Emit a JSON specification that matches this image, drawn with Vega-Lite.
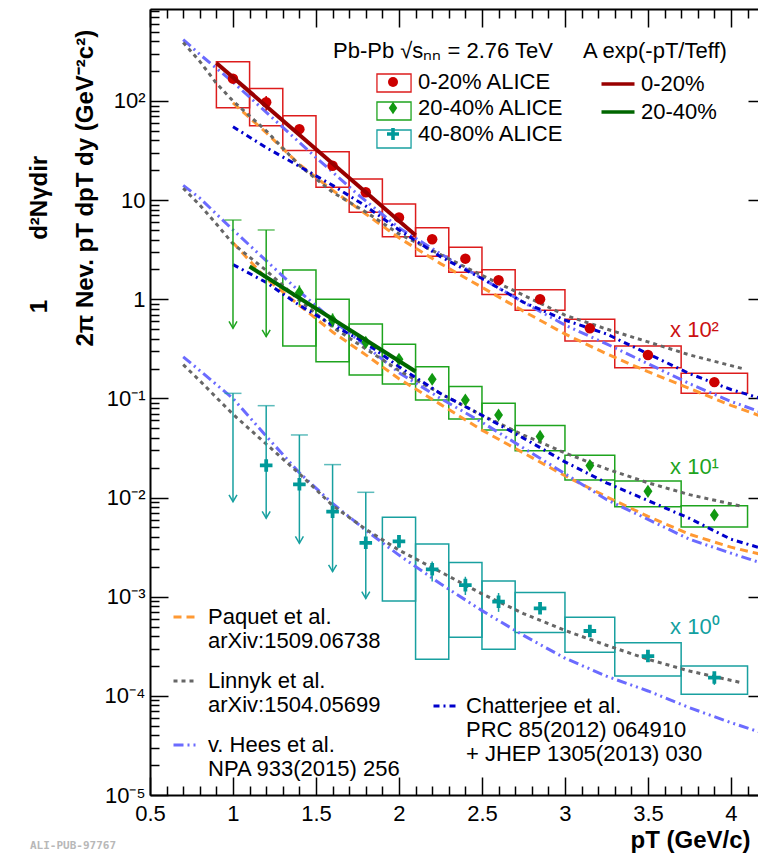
{
"$schema": "https://vega.github.io/schema/vega-lite/v6.json",
"width": 608, "height": 786,
"autosize": {"type": "none"},
"padding": {"left": 150, "top": 9, "right": 0, "bottom": 61},
"background": "white",
"title": {"text": "ALI-PUB-97767", "orient": "bottom", "anchor": "start", "frame": "group", "dx": -120, "offset": -12, "font": "DejaVu Sans Mono", "fontSize": 11, "fontWeight": "bold", "color": "#b8b8b8"},
"datasets": {
"pts": [
{"cent":"0-20%","x":1.0,"xlo":0.9,"xhi":1.1,"y":168,"slo":85.5,"shi":249},
{"cent":"0-20%","x":1.2,"xlo":1.1,"xhi":1.3,"y":97,"slo":56.4,"shi":134,"elo":80,"ehi":112},
{"cent":"0-20%","x":1.4,"xlo":1.3,"xhi":1.5,"y":52,"slo":31.6,"shi":71.1},
{"cent":"0-20%","x":1.6,"xlo":1.5,"xhi":1.7,"y":22.2,"slo":13.5,"shi":30.8},
{"cent":"0-20%","x":1.8,"xlo":1.7,"xhi":1.9,"y":12.0,"slo":7.53,"shi":16.3},
{"cent":"0-20%","x":2.0,"xlo":1.9,"xhi":2.1,"y":6.7,"slo":4.28,"shi":9.14},
{"cent":"0-20%","x":2.2,"xlo":2.1,"xhi":2.3,"y":4.03,"slo":2.71,"shi":5.27},
{"cent":"0-20%","x":2.4,"xlo":2.3,"xhi":2.5,"y":2.57,"slo":1.87,"shi":3.34},
{"cent":"0-20%","x":2.6,"xlo":2.5,"xhi":2.7,"y":1.56,"slo":1.12,"shi":1.99},
{"cent":"0-20%","x":2.85,"xlo":2.7,"xhi":3.0,"y":1.0,"slo":0.774,"shi":1.25},
{"cent":"0-20%","x":3.15,"xlo":3.0,"xhi":3.3,"y":0.509,"slo":0.379,"shi":0.628},
{"cent":"0-20%","x":3.5,"xlo":3.3,"xhi":3.7,"y":0.274,"slo":0.204,"shi":0.338},
{"cent":"0-20%","x":3.9,"xlo":3.7,"xhi":4.1,"y":0.146,"slo":0.1125,"shi":0.179},
{"cent":"20-40%","x":1.0,"elo":0.51,"ehi":6.3,"lim":true},
{"cent":"20-40%","x":1.2,"elo":0.42,"ehi":5.0,"lim":true},
{"cent":"20-40%","x":1.4,"xlo":1.3,"xhi":1.5,"y":1.17,"slo":0.338,"shi":1.97,"elo":0.87,"ehi":1.38},
{"cent":"20-40%","x":1.6,"xlo":1.5,"xhi":1.7,"y":0.618,"slo":0.235,"shi":1.0,"elo":0.52,"ehi":0.72},
{"cent":"20-40%","x":1.8,"xlo":1.7,"xhi":1.9,"y":0.368,"slo":0.172,"shi":0.564},
{"cent":"20-40%","x":2.0,"xlo":1.9,"xhi":2.1,"y":0.248,"slo":0.14,"shi":0.352},
{"cent":"20-40%","x":2.2,"xlo":2.1,"xhi":2.3,"y":0.156,"slo":0.0964,"shi":0.209},
{"cent":"20-40%","x":2.4,"xlo":2.3,"xhi":2.5,"y":0.0964,"slo":0.062,"shi":0.1316},
{"cent":"20-40%","x":2.6,"xlo":2.5,"xhi":2.7,"y":0.068,"slo":0.048,"shi":0.0893},
{"cent":"20-40%","x":2.85,"xlo":2.7,"xhi":3.0,"y":0.0414,"slo":0.0297,"shi":0.0532},
{"cent":"20-40%","x":3.15,"xlo":3.0,"xhi":3.3,"y":0.021,"slo":0.015,"shi":0.0267},
{"cent":"20-40%","x":3.5,"xlo":3.3,"xhi":3.7,"y":0.01156,"slo":0.0081,"shi":0.0147},
{"cent":"20-40%","x":3.9,"xlo":3.7,"xhi":4.1,"y":0.00667,"slo":0.00505,"shi":0.00828},
{"cent":"40-80%","x":1.0,"elo":0.00908,"ehi":0.1125,"lim":true},
{"cent":"40-80%","x":1.2,"y":0.0211,"elo":0.0062,"ehi":0.0845,"lim":true},
{"cent":"40-80%","x":1.4,"y":0.0136,"elo":0.00346,"ehi":0.0428,"lim":true},
{"cent":"40-80%","x":1.6,"y":0.0072,"elo":0.00179,"ehi":0.0215,"lim":true},
{"cent":"40-80%","x":1.8,"y":0.0035,"elo":0.00096,"ehi":0.0113,"lim":true},
{"cent":"40-80%","x":2.0,"xlo":1.9,"xhi":2.1,"y":0.00362,"slo":0.000906,"shi":0.00633,"elo":0.0031,"ehi":0.00419},
{"cent":"40-80%","x":2.2,"xlo":2.1,"xhi":2.3,"y":0.00189,"slo":0.000234,"shi":0.0034,"elo":0.00142,"ehi":0.00226},
{"cent":"40-80%","x":2.4,"xlo":2.3,"xhi":2.5,"y":0.00131,"slo":0.00039,"shi":0.00221,"elo":0.00104,"ehi":0.00159},
{"cent":"40-80%","x":2.6,"xlo":2.5,"xhi":2.7,"y":0.00089,"slo":0.000295,"shi":0.00144,"elo":0.000703,"ehi":0.00109},
{"cent":"40-80%","x":2.85,"xlo":2.7,"xhi":3.0,"y":0.000764,"slo":0.000435,"shi":0.0011,"elo":0.00068,"ehi":0.000857},
{"cent":"40-80%","x":3.15,"xlo":3.0,"xhi":3.3,"y":0.000451,"slo":0.000275,"shi":0.00062,"elo":0.000396,"ehi":0.000499},
{"cent":"40-80%","x":3.5,"xlo":3.3,"xhi":3.7,"y":0.000252,"slo":0.000159,"shi":0.000344,"elo":0.000221,"ehi":0.000279},
{"cent":"40-80%","x":3.9,"xlo":3.7,"xhi":4.1,"y":0.000153,"slo":0.000104,"shi":0.0002,"elo":0.000129,"ehi":0.000171}
],
"fits": [
{"fit":"0-20%","x":0.9,"y":241.5},{"fit":"0-20%","x":2.1,"y":4.43},
{"fit":"20-40%","x":1.1,"y":2.14},{"fit":"20-40%","x":2.1,"y":0.187}
],
"models": [
{"model":"Paquet","cent":"0-20%","x":1.0,"y":95.5},{"model":"Paquet","cent":"0-20%","x":1.2,"y":47.9},{"model":"Paquet","cent":"0-20%","x":1.4,"y":22.9},{"model":"Paquet","cent":"0-20%","x":1.6,"y":12.6},{"model":"Paquet","cent":"0-20%","x":1.8,"y":7.24},{"model":"Paquet","cent":"0-20%","x":2.0,"y":4.17},{"model":"Paquet","cent":"0-20%","x":2.25,"y":2.29},{"model":"Paquet","cent":"0-20%","x":2.5,"y":1.32},{"model":"Paquet","cent":"0-20%","x":2.75,"y":0.759},{"model":"Paquet","cent":"0-20%","x":3.0,"y":0.447},{"model":"Paquet","cent":"0-20%","x":3.25,"y":0.282},{"model":"Paquet","cent":"0-20%","x":3.5,"y":0.186},{"model":"Paquet","cent":"0-20%","x":3.75,"y":0.126},{"model":"Paquet","cent":"0-20%","x":4.0,"y":0.0851},{"model":"Paquet","cent":"0-20%","x":4.2,"y":0.0646},
{"model":"Paquet","cent":"20-40%","x":1.0,"y":3.72},{"model":"Paquet","cent":"20-40%","x":1.2,"y":1.62},{"model":"Paquet","cent":"20-40%","x":1.4,"y":0.871},{"model":"Paquet","cent":"20-40%","x":1.6,"y":0.468},{"model":"Paquet","cent":"20-40%","x":1.8,"y":0.275},{"model":"Paquet","cent":"20-40%","x":2.0,"y":0.158},{"model":"Paquet","cent":"20-40%","x":2.25,"y":0.0871},{"model":"Paquet","cent":"20-40%","x":2.5,"y":0.0479},{"model":"Paquet","cent":"20-40%","x":2.75,"y":0.0282},{"model":"Paquet","cent":"20-40%","x":3.0,"y":0.0166},{"model":"Paquet","cent":"20-40%","x":3.25,"y":0.0102},{"model":"Paquet","cent":"20-40%","x":3.5,"y":0.00646},{"model":"Paquet","cent":"20-40%","x":3.75,"y":0.00427},{"model":"Paquet","cent":"20-40%","x":4.0,"y":0.00316},{"model":"Paquet","cent":"20-40%","x":4.2,"y":0.00263},
{"model":"Hees","cent":"0-20%","x":0.7,"y":417},{"model":"Hees","cent":"0-20%","x":0.8,"y":295},{"model":"Hees","cent":"0-20%","x":0.9,"y":214},{"model":"Hees","cent":"0-20%","x":1.0,"y":155},{"model":"Hees","cent":"0-20%","x":1.25,"y":64.6},{"model":"Hees","cent":"0-20%","x":1.5,"y":26.9},{"model":"Hees","cent":"0-20%","x":1.75,"y":11.5},{"model":"Hees","cent":"0-20%","x":2.0,"y":5.25},{"model":"Hees","cent":"0-20%","x":2.25,"y":2.88},{"model":"Hees","cent":"0-20%","x":2.5,"y":1.62},{"model":"Hees","cent":"0-20%","x":2.75,"y":0.933},{"model":"Hees","cent":"0-20%","x":3.0,"y":0.55},{"model":"Hees","cent":"0-20%","x":3.25,"y":0.355},{"model":"Hees","cent":"0-20%","x":3.5,"y":0.224},{"model":"Hees","cent":"0-20%","x":3.75,"y":0.141},{"model":"Hees","cent":"0-20%","x":4.0,"y":0.0933},{"model":"Hees","cent":"0-20%","x":4.2,"y":0.0708},
{"model":"Hees","cent":"20-40%","x":0.7,"y":14.1},{"model":"Hees","cent":"20-40%","x":0.8,"y":10.5},{"model":"Hees","cent":"20-40%","x":0.9,"y":7.24},{"model":"Hees","cent":"20-40%","x":1.0,"y":5.01},{"model":"Hees","cent":"20-40%","x":1.2,"y":2.45},{"model":"Hees","cent":"20-40%","x":1.4,"y":1.2},{"model":"Hees","cent":"20-40%","x":1.6,"y":0.617},{"model":"Hees","cent":"20-40%","x":1.8,"y":0.339},{"model":"Hees","cent":"20-40%","x":2.0,"y":0.182},{"model":"Hees","cent":"20-40%","x":2.25,"y":0.1},{"model":"Hees","cent":"20-40%","x":2.5,"y":0.0575},{"model":"Hees","cent":"20-40%","x":2.75,"y":0.0316},{"model":"Hees","cent":"20-40%","x":3.0,"y":0.0174},{"model":"Hees","cent":"20-40%","x":3.25,"y":0.00955},{"model":"Hees","cent":"20-40%","x":3.5,"y":0.00603},{"model":"Hees","cent":"20-40%","x":3.75,"y":0.0038},{"model":"Hees","cent":"20-40%","x":4.0,"y":0.00275},{"model":"Hees","cent":"20-40%","x":4.2,"y":0.00214},
{"model":"Hees","cent":"40-80%","x":0.7,"y":0.263},{"model":"Hees","cent":"40-80%","x":0.8,"y":0.191},{"model":"Hees","cent":"40-80%","x":0.9,"y":0.138},{"model":"Hees","cent":"40-80%","x":1.0,"y":0.1},{"model":"Hees","cent":"40-80%","x":1.2,"y":0.0417},{"model":"Hees","cent":"40-80%","x":1.4,"y":0.0178},{"model":"Hees","cent":"40-80%","x":1.6,"y":0.00871},{"model":"Hees","cent":"40-80%","x":1.8,"y":0.00468},{"model":"Hees","cent":"40-80%","x":2.0,"y":0.00263},{"model":"Hees","cent":"40-80%","x":2.25,"y":0.00135},{"model":"Hees","cent":"40-80%","x":2.5,"y":0.000724},{"model":"Hees","cent":"40-80%","x":2.75,"y":0.000407},{"model":"Hees","cent":"40-80%","x":3.0,"y":0.00024},{"model":"Hees","cent":"40-80%","x":3.25,"y":0.000158},{"model":"Hees","cent":"40-80%","x":3.5,"y":0.000112},{"model":"Hees","cent":"40-80%","x":3.75,"y":0.0000759},{"model":"Hees","cent":"40-80%","x":4.0,"y":0.0000537},{"model":"Hees","cent":"40-80%","x":4.2,"y":0.0000417},
{"model":"Linnyk","cent":"0-20%","x":0.7,"y":389},{"model":"Linnyk","cent":"0-20%","x":0.8,"y":251},{"model":"Linnyk","cent":"0-20%","x":0.9,"y":151},{"model":"Linnyk","cent":"0-20%","x":1.0,"y":100},{"model":"Linnyk","cent":"0-20%","x":1.2,"y":50.1},{"model":"Linnyk","cent":"0-20%","x":1.4,"y":22.4},{"model":"Linnyk","cent":"0-20%","x":1.6,"y":12.0},{"model":"Linnyk","cent":"0-20%","x":1.8,"y":7.59},{"model":"Linnyk","cent":"0-20%","x":2.0,"y":4.57},{"model":"Linnyk","cent":"0-20%","x":2.25,"y":2.82},{"model":"Linnyk","cent":"0-20%","x":2.5,"y":1.74},{"model":"Linnyk","cent":"0-20%","x":2.75,"y":1.1},{"model":"Linnyk","cent":"0-20%","x":3.0,"y":0.692},{"model":"Linnyk","cent":"0-20%","x":3.25,"y":0.501},{"model":"Linnyk","cent":"0-20%","x":3.5,"y":0.372},{"model":"Linnyk","cent":"0-20%","x":3.75,"y":0.275},{"model":"Linnyk","cent":"0-20%","x":4.07,"y":0.2},
{"model":"Linnyk","cent":"20-40%","x":0.7,"y":13.2},{"model":"Linnyk","cent":"20-40%","x":0.8,"y":8.91},{"model":"Linnyk","cent":"20-40%","x":0.9,"y":5.75},{"model":"Linnyk","cent":"20-40%","x":1.0,"y":3.63},{"model":"Linnyk","cent":"20-40%","x":1.2,"y":1.95},{"model":"Linnyk","cent":"20-40%","x":1.4,"y":0.977},{"model":"Linnyk","cent":"20-40%","x":1.6,"y":0.525},{"model":"Linnyk","cent":"20-40%","x":1.8,"y":0.316},{"model":"Linnyk","cent":"20-40%","x":2.0,"y":0.191},{"model":"Linnyk","cent":"20-40%","x":2.25,"y":0.112},{"model":"Linnyk","cent":"20-40%","x":2.5,"y":0.0676},{"model":"Linnyk","cent":"20-40%","x":2.75,"y":0.0427},{"model":"Linnyk","cent":"20-40%","x":3.0,"y":0.0282},{"model":"Linnyk","cent":"20-40%","x":3.25,"y":0.0195},{"model":"Linnyk","cent":"20-40%","x":3.5,"y":0.0141},{"model":"Linnyk","cent":"20-40%","x":3.75,"y":0.0107},{"model":"Linnyk","cent":"20-40%","x":4.07,"y":0.00813},
{"model":"Linnyk","cent":"40-80%","x":0.7,"y":0.219},{"model":"Linnyk","cent":"40-80%","x":0.8,"y":0.151},{"model":"Linnyk","cent":"40-80%","x":0.9,"y":0.102},{"model":"Linnyk","cent":"40-80%","x":1.0,"y":0.0692},{"model":"Linnyk","cent":"40-80%","x":1.2,"y":0.0347},{"model":"Linnyk","cent":"40-80%","x":1.4,"y":0.0174},{"model":"Linnyk","cent":"40-80%","x":1.6,"y":0.00832},{"model":"Linnyk","cent":"40-80%","x":1.8,"y":0.00479},{"model":"Linnyk","cent":"40-80%","x":2.0,"y":0.00295},{"model":"Linnyk","cent":"40-80%","x":2.25,"y":0.00178},{"model":"Linnyk","cent":"40-80%","x":2.5,"y":0.00107},{"model":"Linnyk","cent":"40-80%","x":2.75,"y":0.000676},{"model":"Linnyk","cent":"40-80%","x":3.0,"y":0.000457},{"model":"Linnyk","cent":"40-80%","x":3.25,"y":0.000324},{"model":"Linnyk","cent":"40-80%","x":3.5,"y":0.000234},{"model":"Linnyk","cent":"40-80%","x":3.75,"y":0.000178},{"model":"Linnyk","cent":"40-80%","x":4.07,"y":0.000135},
{"model":"Chatterjee","cent":"0-20%","x":1.0,"y":55.0},{"model":"Chatterjee","cent":"0-20%","x":1.2,"y":33.9},{"model":"Chatterjee","cent":"0-20%","x":1.4,"y":21.9},{"model":"Chatterjee","cent":"0-20%","x":1.6,"y":14.1},{"model":"Chatterjee","cent":"0-20%","x":1.8,"y":8.71},{"model":"Chatterjee","cent":"0-20%","x":2.0,"y":5.01},{"model":"Chatterjee","cent":"0-20%","x":2.25,"y":2.69},{"model":"Chatterjee","cent":"0-20%","x":2.5,"y":1.62},{"model":"Chatterjee","cent":"0-20%","x":2.75,"y":0.933},{"model":"Chatterjee","cent":"0-20%","x":3.0,"y":0.617},{"model":"Chatterjee","cent":"0-20%","x":3.25,"y":0.447},{"model":"Chatterjee","cent":"0-20%","x":3.5,"y":0.282},{"model":"Chatterjee","cent":"0-20%","x":3.75,"y":0.178},{"model":"Chatterjee","cent":"0-20%","x":4.0,"y":0.123},{"model":"Chatterjee","cent":"0-20%","x":4.2,"y":0.0977},
{"model":"Chatterjee","cent":"20-40%","x":1.0,"y":2.24},{"model":"Chatterjee","cent":"20-40%","x":1.2,"y":1.48},{"model":"Chatterjee","cent":"20-40%","x":1.4,"y":0.871},{"model":"Chatterjee","cent":"20-40%","x":1.6,"y":0.55},{"model":"Chatterjee","cent":"20-40%","x":1.8,"y":0.363},{"model":"Chatterjee","cent":"20-40%","x":2.0,"y":0.209},{"model":"Chatterjee","cent":"20-40%","x":2.25,"y":0.112},{"model":"Chatterjee","cent":"20-40%","x":2.5,"y":0.0676},{"model":"Chatterjee","cent":"20-40%","x":2.75,"y":0.0398},{"model":"Chatterjee","cent":"20-40%","x":3.0,"y":0.0229},{"model":"Chatterjee","cent":"20-40%","x":3.25,"y":0.0141},{"model":"Chatterjee","cent":"20-40%","x":3.5,"y":0.00933},{"model":"Chatterjee","cent":"20-40%","x":3.75,"y":0.00617},{"model":"Chatterjee","cent":"20-40%","x":4.0,"y":0.0038},{"model":"Chatterjee","cent":"20-40%","x":4.2,"y":0.00302}
]
},
"layer": [
{
"data": {"name": "pts"},
"transform": [{"filter": "isValid(datum.slo)"}],
"mark": {"type": "rect", "filled": false, "strokeWidth": 1.5},
"encoding": {
"x": {"field": "xlo", "type": "quantitative", "scale": {"type": "linear", "domain": [0.5, 4.163], "nice": false, "zero": false},
 "axis": {"orient": "bottom", "values": [0.5,1,1.5,2,2.5,3,3.5,4], "format": "~g", "tickSize": -18, "labelPadding": 26, "labelFlush": false, "labelOverlap": false, "domain": true,
  "title": "pT (GeV/c)", "titleFontSize": 24, "titleFontWeight": "bold", "titleAlign": "left", "titleBaseline": "middle", "titleX": 480, "titleY": 45}},
"x2": {"field": "xhi"},
"y": {"field": "slo", "type": "quantitative", "scale": {"type": "log", "domain": [0.00001, 847], "nice": false},
 "axis": {"orient": "left", "values": [0.00001,0.0001,0.001,0.01,0.1,1,10,100], "tickSize": -18, "labelPadding": 23, "labelFlush": false, "labelOverlap": false, "domain": true,
  "labelExpr": "datum.value >= 50 ? '10²' : datum.value >= 5 ? '10' : datum.value >= 0.5 ? '1' : datum.value >= 0.05 ? '10⁻¹' : datum.value >= 0.005 ? '10⁻²' : datum.value >= 0.0005 ? '10⁻³' : datum.value >= 0.00005 ? '10⁻⁴' : '10⁻⁵'",
  "title": ["\u200b\u00a0\u00a0\u00a0\u00a0\u00a01\u00a0\u00a0\u00a0\u00a0\u00a0\u00a0\u00a0\u00a0\u00a0d²Nγdir", "2π Nev. pT dpT dy (GeV⁻²c²)"],
  "titleFontSize": 24, "titleFontWeight": "bold", "titleAngle": 270, "titleAlign": "left", "titleBaseline": "top", "titleX": -123, "titleY": 337, "titleLineHeight": 46}},
"y2": {"field": "shi"},
"color": {"field": "cent", "type": "nominal", "scale": {"domain": ["0-20%","20-40%","40-80%"], "range": ["#dd1c1c","#1ea41e","#18a0a0"]},
 "legend": {"orient": "none", "direction": "vertical", "legendX": 183, "legendY": 62, "title": null, "symbolType": "M-1.55,-0.82H1.55V0.82H-1.55Z", "symbolSize": 484, "symbolStrokeWidth": 1.3, "symbolOffset": 49, "rowPadding": 4, "labelExpr": "''"}}
}
},
{
"data": {"name": "models"},
"transform": [{"filter": "datum.model != 'Chatterjee'"}],
"mark": {"type": "line", "strokeWidth": 3, "clip": true, "strokeCap": "butt"},
"encoding": {
"x": {"field": "x", "type": "quantitative", "scale": {"type": "linear", "domain": [0.5, 4.163], "nice": false, "zero": false}, "axis": null},
"y": {"field": "y", "type": "quantitative", "scale": {"type": "log", "domain": [0.00001, 847], "nice": false}, "axis": null},
"detail": {"field": "cent"},
"color": {"field": "model", "type": "nominal", "scale": {"domain": ["Paquet","Linnyk","Hees"], "range": ["#ff9933","#666666","#6b6bff"]},
 "legend": {"orient": "none", "direction": "vertical", "legendX": 22, "legendY": 595, "title": null, "symbolType": "stroke", "symbolSize": 529, "symbolStrokeWidth": 3, "labelOffset": 10, "rowPadding": 16,
  "labelExpr": "datum.label == 'Paquet' ? ['Paquet et al.', 'arXiv:1509.06738'] : datum.label == 'Linnyk' ? ['Linnyk et al.', 'arXiv:1504.05699'] : ['v. Hees et al.', 'NPA 933(2015) 256']"}},
"strokeDash": {"field": "model", "type": "nominal", "scale": {"domain": ["Paquet","Linnyk","Hees"], "range": [[8,5],[4,4],[10,4,2,4,2,4]]},
 "legend": {"orient": "none", "direction": "vertical", "legendX": 22, "legendY": 595, "title": null, "symbolType": "stroke", "symbolSize": 529, "symbolStrokeWidth": 3, "labelOffset": 10, "rowPadding": 16,
  "labelExpr": "datum.label == 'Paquet' ? ['Paquet et al.', 'arXiv:1509.06738'] : datum.label == 'Linnyk' ? ['Linnyk et al.', 'arXiv:1504.05699'] : ['v. Hees et al.', 'NPA 933(2015) 256']"}}
}
},
{
"data": {"name": "models"},
"transform": [{"filter": "datum.model == 'Chatterjee'"}],
"mark": {"type": "line", "strokeWidth": 3, "clip": true, "strokeCap": "butt"},
"encoding": {
"x": {"field": "x", "type": "quantitative", "scale": {"type": "linear", "domain": [0.5, 4.163], "nice": false, "zero": false}, "axis": null},
"y": {"field": "y", "type": "quantitative", "scale": {"type": "log", "domain": [0.00001, 847], "nice": false}, "axis": null},
"detail": {"field": "cent"},
"color": {"field": "model", "type": "nominal", "scale": {"domain": ["Chatterjee"], "range": ["#0000cc"]},
 "legend": {"orient": "none", "direction": "vertical", "legendX": 282, "legendY": 684, "title": null, "symbolType": "stroke", "symbolSize": 529, "symbolStrokeWidth": 3, "labelOffset": 8,
  "labelExpr": "['Chatterjee et al.', 'PRC 85(2012) 064910', '+ JHEP 1305(2013) 030']"}},
"strokeDash": {"field": "model", "type": "nominal", "scale": {"domain": ["Chatterjee"], "range": [[6,4,2,4]]},
 "legend": {"orient": "none", "direction": "vertical", "legendX": 282, "legendY": 684, "title": null, "symbolType": "stroke", "symbolSize": 529, "symbolStrokeWidth": 3, "labelOffset": 8,
  "labelExpr": "['Chatterjee et al.', 'PRC 85(2012) 064910', '+ JHEP 1305(2013) 030']"}}
}
},
{
"data": {"name": "pts"},
"transform": [{"filter": "isValid(datum.elo)"}],
"mark": {"type": "rule", "strokeWidth": 1.5},
"encoding": {
"x": {"field": "x", "type": "quantitative", "scale": {"type": "linear", "domain": [0.5, 4.163], "nice": false, "zero": false},
 "axis": {"orient": "top", "values": [0.5,1,1.5,2,2.5,3,3.5,4], "tickSize": -18, "labels": false, "domain": true, "title": null}},
"y": {"field": "elo", "type": "quantitative", "scale": {"type": "log", "domain": [0.00001, 847], "nice": false},
 "axis": {"orient": "right", "values": [0.00001,0.0001,0.001,0.01,0.1,1,10,100], "tickSize": -10, "labels": false, "domain": false, "title": null}},
"y2": {"field": "ehi"},
"color": {"field": "cent", "type": "nominal", "scale": {"domain": ["0-20%","20-40%","40-80%"], "range": ["#cc0000","#1ea41e","#18a0a0"]}, "legend": null}
}
},
{
"data": {"name": "pts"},
"transform": [{"filter": "datum.lim == true"}],
"mark": {"type": "tick", "orient": "horizontal", "size": 17, "thickness": 1.5},
"encoding": {
"x": {"field": "x", "type": "quantitative", "scale": {"type": "linear", "domain": [0.5, 4.163], "nice": false, "zero": false},
 "axis": {"orient": "top", "values": [0.6,0.7,0.8,0.9,1.1,1.2,1.3,1.4,1.6,1.7,1.8,1.9,2.1,2.2,2.3,2.4,2.6,2.7,2.8,2.9,3.1,3.2,3.3,3.4,3.6,3.7,3.8,3.9,4.1], "tickSize": -9, "labels": false, "domain": false, "title": null}},
"y": {"field": "ehi", "type": "quantitative", "scale": {"type": "log", "domain": [0.00001, 847], "nice": false}, "axis": null},
"color": {"field": "cent", "type": "nominal", "scale": {"domain": ["0-20%","20-40%","40-80%"], "range": ["#cc0000","#1ea41e","#18a0a0"]}, "legend": null}
}
},
{
"data": {"name": "pts"},
"transform": [{"filter": "datum.lim == true"}],
"mark": {"type": "point", "shape": "M-1,-1.7L0,0L1,-1.7", "filled": false, "size": 64, "strokeWidth": 1.5, "opacity": 1},
"encoding": {
"x": {"field": "x", "type": "quantitative", "scale": {"type": "linear", "domain": [0.5, 4.163], "nice": false, "zero": false}, "axis": null},
"y": {"field": "elo", "type": "quantitative", "scale": {"type": "log", "domain": [0.00001, 847], "nice": false}, "axis": null},
"color": {"field": "cent", "type": "nominal", "scale": {"domain": ["0-20%","20-40%","40-80%"], "range": ["#cc0000","#1ea41e","#18a0a0"]}, "legend": null}
}
},
{
"data": {"name": "pts"},
"transform": [{"filter": "isValid(datum.y)"}],
"mark": {"type": "point", "filled": true, "size": 110, "opacity": 1, "strokeWidth": 0},
"encoding": {
"x": {"field": "x", "type": "quantitative", "scale": {"type": "linear", "domain": [0.5, 4.163], "nice": false, "zero": false},
 "axis": {"orient": "bottom", "values": [0.6,0.7,0.8,0.9,1.1,1.2,1.3,1.4,1.6,1.7,1.8,1.9,2.1,2.2,2.3,2.4,2.6,2.7,2.8,2.9,3.1,3.2,3.3,3.4,3.6,3.7,3.8,3.9,4.1], "tickSize": -9, "labels": false, "domain": false, "title": null}},
"y": {"field": "y", "type": "quantitative", "scale": {"type": "log", "domain": [0.00001, 847], "nice": false},
 "axis": {"orient": "left", "values": [0.00002,0.00003,0.00004,0.00005,0.00006,0.00007,0.00008,0.00009,0.0002,0.0003,0.0004,0.0005,0.0006,0.0007,0.0008,0.0009,0.002,0.003,0.004,0.005,0.006,0.007,0.008,0.009,0.02,0.03,0.04,0.05,0.06,0.07,0.08,0.09,0.2,0.3,0.4,0.5,0.6,0.7,0.8,0.9,2,3,4,5,6,7,8,9,20,30,40,50,60,70,80,90,200,300,400,500,600,700,800], "tickSize": -9, "labels": false, "domain": false, "title": null}},
"color": {"field": "cent", "type": "nominal", "scale": {"domain": ["0-20%","20-40%","40-80%"], "range": ["#cc0000","#119911","#009999"]},
 "legend": {"orient": "none", "direction": "vertical", "legendX": 183, "legendY": 32, "title": "Pb-Pb √sₙₙ = 2.76 TeV", "titlePadding": 8, "rowPadding": 4, "symbolOffset": 49, "labelOffset": 14,
  "labelExpr": "(datum.label == '0-20%' ? '\u2007' : '') + datum.label + ' ALICE'"}},
"shape": {"field": "cent", "type": "nominal", "scale": {"domain": ["0-20%","20-40%","40-80%"], "range": ["circle", "M0,-1.25L0.85,0L0,1.25L-0.85,0Z", "M-1.2,-0.36H-0.36V-1.2H0.36V-0.36H1.2V0.36H0.36V1.2H-0.36V0.36H-1.2Z"]},
 "legend": {"orient": "none", "direction": "vertical", "legendX": 183, "legendY": 32, "title": "Pb-Pb √sₙₙ = 2.76 TeV", "titlePadding": 8, "rowPadding": 4, "symbolOffset": 49, "labelOffset": 14,
  "labelExpr": "(datum.label == '0-20%' ? '\u2007' : '') + datum.label + ' ALICE'"}}
}
},
{
"data": {"name": "fits"},
"mark": {"type": "line", "strokeWidth": 4, "clip": true},
"encoding": {
"x": {"field": "x", "type": "quantitative", "scale": {"type": "linear", "domain": [0.5, 4.163], "nice": false, "zero": false}, "axis": null},
"y": {"field": "y", "type": "quantitative", "scale": {"type": "log", "domain": [0.00001, 847], "nice": false}, "axis": null},
"color": {"field": "fit", "type": "nominal", "scale": {"domain": ["0-20%","20-40%"], "range": ["#990000","#006600"]},
 "legend": {"orient": "none", "direction": "vertical", "legendX": 433, "legendY": 32, "title": "A exp(-pT/Teff)", "titlePadding": 8, "rowPadding": 4, "symbolType": "M-1.5,0H1.5", "symbolSize": 484, "symbolStrokeWidth": 3.5, "symbolOffset": 22, "labelOffset": 10,
  "labelExpr": "datum.label == '0-20%' ? '\u2007' + datum.label : datum.label"}}
}
},
{
"data": {"values": [{}]},
"mark": {"type": "text", "align": "left", "baseline": "middle", "fontSize": 22, "color": "#cc1111"},
"encoding": {
"x": {"datum": 3.633, "type": "quantitative", "scale": {"type": "linear", "domain": [0.5, 4.163], "nice": false, "zero": false}, "axis": null},
"y": {"datum": 0.49, "type": "quantitative", "scale": {"type": "log", "domain": [0.00001, 847], "nice": false}, "axis": null},
"text": {"value": "x 10²"}
}
},
{
"data": {"values": [{}]},
"mark": {"type": "text", "align": "left", "baseline": "middle", "fontSize": 22, "color": "#1ea41e"},
"encoding": {
"x": {"datum": 3.633, "type": "quantitative", "scale": {"type": "linear", "domain": [0.5, 4.163], "nice": false, "zero": false}, "axis": null},
"y": {"datum": 0.0203, "type": "quantitative", "scale": {"type": "log", "domain": [0.00001, 847], "nice": false}, "axis": null},
"text": {"value": "x 10¹"}
}
},
{
"data": {"values": [{}]},
"mark": {"type": "text", "align": "left", "baseline": "middle", "fontSize": 22, "color": "#12a0a0"},
"encoding": {
"x": {"datum": 3.633, "type": "quantitative", "scale": {"type": "linear", "domain": [0.5, 4.163], "nice": false, "zero": false}, "axis": null},
"y": {"datum": 0.000494, "type": "quantitative", "scale": {"type": "log", "domain": [0.00001, 847], "nice": false}, "axis": null},
"text": {"value": "x 10⁰"}
}
}
],
"resolve": {
"scale": {"color": "independent", "shape": "independent", "strokeDash": "independent"},
"axis": {"x": "independent", "y": "independent"}
},
"config": {
"view": {"stroke": null},
"font": "Liberation Sans",
"text": {"font": "Liberation Sans"},
"axis": {"grid": false, "domainColor": "black", "domainWidth": 2, "tickColor": "black", "tickWidth": 1.5, "labelColor": "black", "titleColor": "black", "labelFont": "Liberation Sans", "labelFontSize": 22, "titleFont": "Liberation Sans"},
"legend": {"labelFont": "Liberation Sans", "labelFontSize": 22, "labelColor": "black", "titleFont": "Liberation Sans", "titleFontSize": 22, "titleFontWeight": "normal", "titleColor": "black", "padding": 0, "labelLimit": 500, "titleLimit": 500}
}
}
